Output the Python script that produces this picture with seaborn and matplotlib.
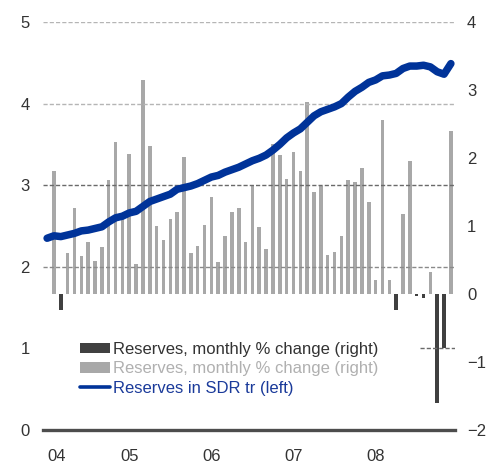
import numpy as np
import pandas as pd
import matplotlib
matplotlib.use("Agg")
import matplotlib.pyplot as plt
import seaborn as sns
from matplotlib.patches import Patch
from matplotlib.lines import Line2D

# ---------------- data ----------------
# month index: 0 = Jan 2004 ... 59 = Dec 2008
months = list(range(60))
year_ticks = [0, 12, 24, 36, 48]
year_labels = ["04", "05", "06", "07", "08"]

# Reserves in SDR trillion (left axis)
reserves_sdr = [
    2.35, 2.38, 2.37, 2.39, 2.41, 2.44, 2.45, 2.47, 2.49, 2.55, 2.60, 2.62,
    2.66, 2.68, 2.74, 2.80, 2.83, 2.86, 2.89, 2.95, 2.97, 2.99, 3.02, 3.06,
    3.10, 3.12, 3.16, 3.19, 3.22, 3.26, 3.30, 3.33, 3.37, 3.43, 3.50, 3.58,
    3.64, 3.69, 3.77, 3.85, 3.90, 3.93, 3.96, 4.00, 4.08, 4.15, 4.20, 4.26,
    4.29, 4.34, 4.35, 4.37, 4.43, 4.46, 4.46, 4.47, 4.45, 4.39, 4.36, 4.49,
]

# Reserves, monthly % change (right axis), Feb 2004 .. Dec 2008
change_months = list(range(1, 60))
monthly_change = [
    1.81, -0.24, 0.60, 1.27, 0.56, 0.76, 0.49, 0.69, 1.68, 2.23, 1.10,
    2.06, 0.44, 3.15, 2.17, 1.00, 0.80, 1.11, 1.21, 2.02, 0.60, 0.71, 1.02,
    1.42, 0.47, 0.85, 1.21, 1.27, 0.76, 1.60, 0.99, 0.66, 2.20, 2.04, 1.69,
    2.09, 1.81, 2.83, 1.50, 1.59, 0.57, 0.62, 0.85, 1.68, 1.65, 1.86, 1.36,
    0.21, 2.56, 0.21, -0.24, 1.17, 1.95, -0.03, -0.06, 0.33, -1.61, -0.79, 2.40,
]

left_ticks = [0, 1, 2, 3, 4, 5]
right_ticks = [-2, -1, 0, 1, 2, 3, 4]
legend_labels = [
    "Reserves, monthly % change (right)",
    "Reserves, monthly % change (right)",
    "Reserves in SDR tr (left)",
]

# ---------------- style ----------------
DARK = "#404040"
GRAY = "#a8a8a8"
BLUE = "#003399"
TXT = "#333333"

sns.set_theme(style="white")
plt.rcParams["font.family"] = ["Liberation Sans", "DejaVu Sans"]

W, H = 486, 465
fig = plt.figure(figsize=(W / 100, H / 100), dpi=100)
ax = fig.add_axes([43 / W, 1 - 430 / H, 412 / W, 408 / H])
ax2 = ax.twinx()

# bars (right scale) on host axes
df_bar = pd.DataFrame({"month": change_months, "change": monthly_change})
df_bar["sign"] = np.where(df_bar["change"] < 0, "neg", "pos")
sns.barplot(data=df_bar, x="month", y="change", hue="sign",
            palette={"pos": GRAY, "neg": DARK}, native_scale=True,
            dodge=False, width=0.52, errorbar=None, legend=False,
            saturation=1, linewidth=0, edgecolor="none", ax=ax)

# line (left scale) on twin axes
df_line = pd.DataFrame({"month": months, "reserves": reserves_sdr})
sns.lineplot(data=df_line, x="month", y="reserves", ax=ax2, color=BLUE,
             linewidth=5.4, solid_capstyle="round", zorder=5)

ax.set_xlim(-0.6, 59.6)
ax.set_ylim(-2, 4)
ax2.set_ylim(0, 5)

# gridlines at left-axis levels
grid_colors = {5: "#b5b5b5", 4: "#b5b5b5", 3: "#6a6a6a", 2: "#8a8a8a", 1: "#6a6a6a"}
for lv in [5, 4, 3, 2]:
    ax2.axhline(lv, color=grid_colors[lv], lw=1.0, ls=(0, (3, 1.5)), zorder=1)
ax2.axhline(1, xmin=(420 - 43) / 412, color=grid_colors[1], lw=1.0,
            ls=(0, (3, 1.5)), zorder=1)

# axes / ticks
ax.yaxis.tick_right()
ax2.yaxis.tick_left()
ax.set_yticks(right_ticks)
ax2.set_yticks(left_ticks)
ax.set_xticks(year_ticks)
ax.set_xticklabels(year_labels)
ax.tick_params(axis="y", length=0, pad=8.6, labelsize=12, labelcolor=TXT,
               right=False, labelright=True, labelleft=False)
ax2.tick_params(axis="y", length=0, pad=9.4, labelsize=12, labelcolor=TXT,
                left=False, labelleft=True, labelright=False)
ax.tick_params(axis="x", length=0, pad=13.5, labelsize=12, labelcolor=TXT)
ax.get_xticklabels()[0].set_horizontalalignment("left")
ax.set_xlabel("")
ax.set_ylabel("")
ax2.set_xlabel("")
ax2.set_ylabel("")
ax.grid(False)
ax2.grid(False)

for s in ["top", "left", "right"]:
    ax.spines[s].set_visible(False)
for s in ax2.spines.values():
    s.set_visible(False)
ax.spines["bottom"].set_color("#4d4d4d")
ax.spines["bottom"].set_linewidth(2.4)

# legend
handles = [Patch(facecolor=DARK, edgecolor="none"),
           Patch(facecolor=GRAY, edgecolor="none"),
           Line2D([0], [0], color=BLUE, lw=2.6, solid_capstyle="round")]
leg = ax2.legend(handles, legend_labels, loc="upper left",
                 bbox_to_anchor=(80 / W, 1 - 342 / H),
                 bbox_transform=fig.transFigure, frameon=False, fontsize=12,
                 handlelength=1.8, handleheight=0.6, handletextpad=0.2,
                 labelspacing=0.26, borderpad=0, borderaxespad=0)
for t, c in zip(leg.get_texts(), [TXT, "#b0b0b0", "#1a3a9a"]):
    t.set_color(c)

fig.savefig("out.png", dpi=100)
